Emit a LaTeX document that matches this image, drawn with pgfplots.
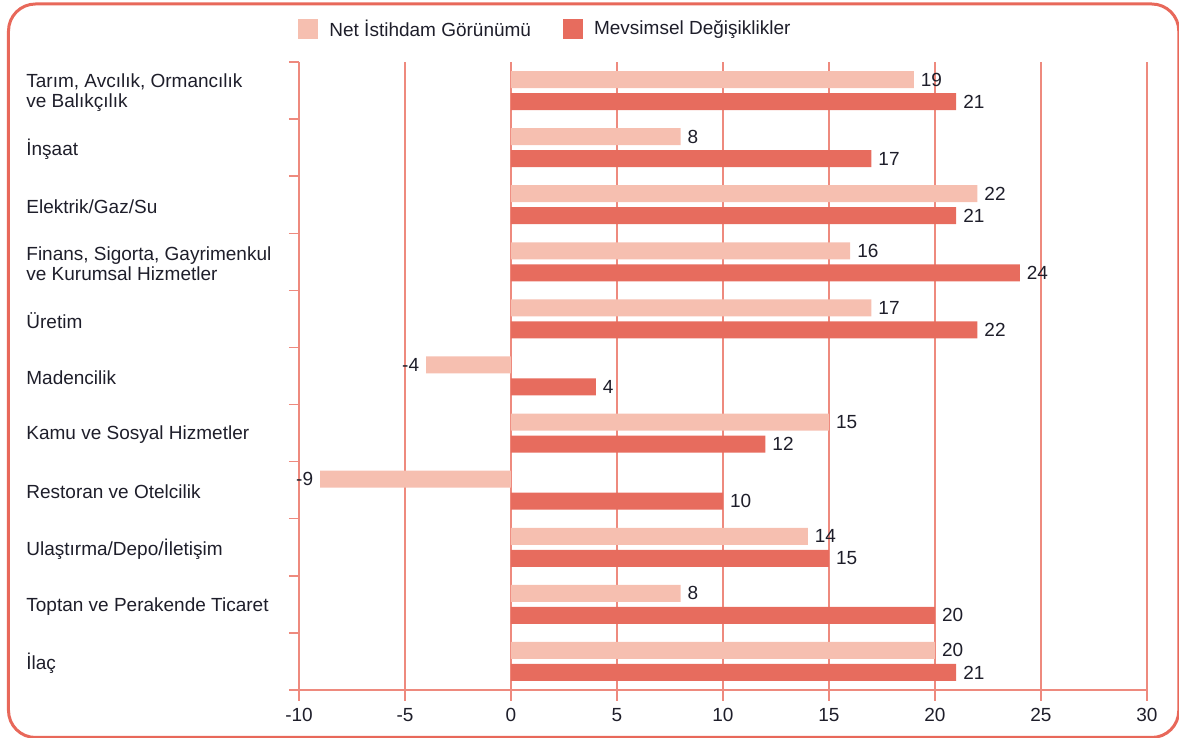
\documentclass[border=0pt]{standalone}
\usepackage{pgfplots}
\pgfplotsset{compat=1.18}
\usepackage{fontspec}
\setmainfont{Liberation Sans}

\definecolor{lightbar}{HTML}{F6BFB0}
\definecolor{darkbar}{HTML}{E76C5E}
\definecolor{gridcol}{HTML}{EE8A7E}
\definecolor{framecol}{HTML}{E8685A}
\definecolor{textcol}{HTML}{1E1E2A}

\begin{document}
\begin{tikzpicture}[font=\fontsize{9.5}{11}\selectfont, text=textcol]
    % page = 1179 x 738 px at 0.5pt per px, axis origin at lower left of plot box
    \useasboundingbox (-149.5pt,-24pt) rectangle (440pt,345pt);
    \draw[framecol, line width=1.5pt, rounded corners=13.5pt]
        (-145.25pt,-23.75pt) rectangle (439.9pt,343pt);
    \begin{axis}[
            at={(0pt,0pt)}, anchor=south west,
            scale only axis,
            width=424pt, height=314pt,
            xbar, bar width=8.5pt,
            xmin=-10, xmax=30,
            ymin=-0.5, ymax=10.5,
            xtick={-10,-5,...,30},
            ytick={0,...,10},
            minor ytick={-0.5,0.5,...,10.5},
            yticklabels={
                {İlaç},
                {Toptan ve Perakende Ticaret},
                {Ulaştırma/Depo/İletişim},
                {Restoran ve Otelcilik},
                {Kamu ve Sosyal Hizmetler},
                {Madencilik},
                {Üretim},
                {Finans, Sigorta, Gayrimenkul\\ve Kurumsal Hizmetler},
                {Elektrik/Gaz/Su},
                {İnşaat},
                {Tarım, Avcılık, Ormancılık\\ve Balıkçılık}
            },
            axis x line*=bottom,
            axis y line*=left,
            axis line style={gridcol, line width=0.75pt},
            xmajorgrids,
            grid style={gridcol, line width=0.75pt},
            tick align=outside,
            major tick length=5.5pt,
            minor tick length=5pt,
            tick style={gridcol, line width=0.75pt},
            major y tick style={draw=none},
            tick label style={font=\fontsize{9.5}{11}\selectfont, text=textcol},
            yticklabel style={anchor=west, align=left, inner sep=0pt,
                font=\fontsize{9.5}{10}\selectfont, xshift=-131pt, yshift=-1pt},
            /pgf/number format/assume math mode=true,
            clip=false,
            nodes near coords,
            nodes near coords style={font=\fontsize{9.5}{11}\selectfont, text=textcol},
            legend style={
                at={(axis description cs:0,1)}, anchor=west,
                xshift=-0.5pt, yshift=16.25pt,
                draw=none, fill=none, inner sep=0pt,
                legend columns=2,
                font=\fontsize{9.5}{11}\selectfont,
                /tikz/every odd column/.append style={column sep=3.5pt},
                /tikz/every even column/.append style={column sep=14pt},
            },
        ]
        \addplot[fill=lightbar, draw=none, bar shift=5.5pt,
            legend image code/.code={\fill[lightbar] (0pt,-5pt) rectangle (10pt,5pt);}]
            coordinates {
                (20,0) (8,1) (14,2) (-9,3) (15,4) (-4,5)
                (17,6) (16,7) (22,8) (8,9) (19,10)
            };
        \addplot[fill=darkbar, draw=none, bar shift=-5.5pt,
            legend image code/.code={\fill[darkbar] (0pt,-5pt) rectangle (10pt,5pt);}]
            coordinates {
                (21,0) (20,1) (15,2) (10,3) (12,4) (4,5)
                (22,6) (24,7) (21,8) (17,9) (21,10)
            };
        \legend{Net İstihdam Görünümü, Mevsimsel Değişiklikler}
    \end{axis}
\end{tikzpicture}
\end{document}
